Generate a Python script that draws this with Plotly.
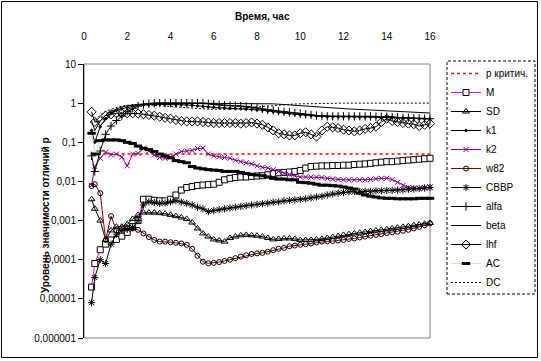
import plotly.graph_objects as go

hours = [0.35] + [round(0.25 * k, 2) for k in range(2, 65)]
p_crit = 0.05

M = [2.0e-5, 8.0e-5, 1.8e-4, 2.5e-4,
     3.2e-4, 3.3e-4, 4.0e-4, 5.0e-4,
     7.0e-4, 1.0e-3, 3.5e-3, 3.5e-3,
     3.3e-3, 3.2e-3, 3.2e-3, 3.5e-3,
     4.5e-3, 6.0e-3, 7.0e-3, 7.4e-3,
     7.9e-3, 8.1e-3, 8.3e-3, 8.5e-3,
     9.5e-3, 0.011, 0.012, 0.0126,
     0.013, 0.013, 0.0135, 0.0138,
     0.014, 0.0148, 0.0158, 0.0166,
     0.017, 0.0174, 0.018, 0.019,
     0.022, 0.024, 0.0245, 0.025,
     0.025, 0.0255, 0.0255, 0.026,
     0.026, 0.027, 0.0275, 0.028,
     0.029, 0.030, 0.031, 0.032,
     0.032, 0.033, 0.034, 0.035,
     0.036, 0.037, 0.038, 0.039]

SD = [3.5e-3, 2.0e-3, 1.0e-3, 3.2e-4,
      5.6e-4, 7.0e-4, 7.0e-4, 8.0e-4,
      1.1e-3, 1.4e-3, 1.6e-3, 1.6e-3,
      1.6e-3, 1.55e-3, 1.5e-3, 1.4e-3,
      1.3e-3, 1.2e-3, 1.1e-3, 8.9e-4,
      6.3e-4, 4.7e-4, 3.9e-4, 3.3e-4,
      3.1e-4, 2.9e-4, 3.6e-4, 3.9e-4,
      4.2e-4, 4.3e-4, 4.2e-4, 4.1e-4,
      3.9e-4, 3.6e-4, 3.3e-4, 3.4e-4,
      3.5e-4, 3.5e-4, 3.4e-4, 3.2e-4,
      3.2e-4, 3.2e-4, 3.3e-4, 3.4e-4,
      3.6e-4, 3.8e-4, 4.0e-4, 4.3e-4,
      4.5e-4, 4.7e-4, 4.9e-4, 5.1e-4,
      5.4e-4, 5.6e-4, 5.8e-4, 6.0e-4,
      6.3e-4, 6.6e-4, 6.9e-4, 7.2e-4,
      7.6e-4, 7.9e-4, 8.3e-4, 8.7e-4]

k1 = [0.20, 0.10, 0.25, 0.40,
      0.55, 0.65, 0.72, 0.78,
      0.83, 0.87, 0.90, 0.92,
      0.93, 0.93, 0.93, 0.93,
      0.93, 0.92, 0.90, 0.88,
      0.85, 0.82, 0.80, 0.78,
      0.76, 0.75, 0.74, 0.73,
      0.72, 0.71, 0.70, 0.68,
      0.66, 0.63, 0.60, 0.58,
      0.56, 0.54, 0.52, 0.50,
      0.49, 0.48, 0.47, 0.46,
      0.45, 0.45, 0.45, 0.45,
      0.45, 0.45, 0.44, 0.44,
      0.44, 0.44, 0.43, 0.43,
      0.43, 0.42, 0.42, 0.41,
      0.41, 0.40, 0.40, 0.40]

k2 = [7.9e-3, 0.024, 0.039, 0.056,
      0.048, 0.050, 0.042, 0.025,
      0.050, 0.052, 0.071, 0.060,
      0.047, 0.041, 0.039, 0.042,
      0.050, 0.058, 0.060, 0.062,
      0.069, 0.071, 0.050, 0.045,
      0.043, 0.041, 0.039, 0.035,
      0.032, 0.030, 0.028, 0.025,
      0.023, 0.022, 0.020, 0.018,
      0.016, 0.015, 0.014, 0.013,
      0.013, 0.0129, 0.0129, 0.0126,
      0.012, 0.0115, 0.0112, 0.011,
      0.011, 0.011, 0.011, 0.011,
      0.0112, 0.0117, 0.012, 0.012,
      0.0112, 0.0095, 0.0079, 0.0070,
      0.0068, 0.0066, 0.0069, 0.0072]

w82 = [7.6e-3, 8.5e-3, 5.0e-3, 3.2e-4,
       1.3e-3, 5.6e-4, 6.3e-4, 6.3e-4,
       6.3e-4, 5.8e-4, 4.7e-4, 3.8e-4,
       3.2e-4, 2.9e-4, 2.9e-4, 2.8e-4,
       2.7e-4, 2.6e-4, 2.4e-4, 1.9e-4,
       1.26e-4, 8.9e-5, 8.1e-5, 8.3e-5,
       8.7e-5, 9.3e-5, 1.0e-4, 1.1e-4,
       1.2e-4, 1.3e-4, 1.4e-4, 1.45e-4,
       1.5e-4, 1.6e-4, 1.75e-4, 1.9e-4,
       2.0e-4, 2.2e-4, 2.3e-4, 2.4e-4,
       2.5e-4, 2.6e-4, 2.75e-4, 2.9e-4,
       2.95e-4, 3.0e-4, 3.1e-4, 3.2e-4,
       3.4e-4, 3.5e-4, 3.7e-4, 3.9e-4,
       4.1e-4, 4.3e-4, 4.5e-4, 4.8e-4,
       5.0e-4, 5.2e-4, 5.5e-4, 5.8e-4,
       6.3e-4, 6.9e-4, 7.6e-4, 8.5e-4]

CBBP = [8.0e-6, 3.5e-5, 1.0e-4, 8.0e-5,
        2.5e-4, 4.5e-4, 5.6e-4, 6.0e-4,
        6.6e-4, 1.0e-3, 2.5e-3, 3.0e-3,
        2.9e-3, 2.75e-3, 2.8e-3, 3.0e-3,
        3.2e-3, 3.0e-3, 2.75e-3, 2.5e-3,
        2.2e-3, 2.0e-3, 1.7e-3, 1.8e-3,
        1.9e-3, 2.0e-3, 2.1e-3, 2.2e-3,
        2.3e-3, 2.4e-3, 2.5e-3, 2.6e-3,
        2.7e-3, 2.8e-3, 2.95e-3, 3.0e-3,
        3.2e-3, 3.3e-3, 3.4e-3, 3.5e-3,
        3.6e-3, 3.8e-3, 4.0e-3, 4.2e-3,
        4.5e-3, 4.8e-3, 5.0e-3, 5.2e-3,
        5.4e-3, 5.5e-3, 5.5e-3, 5.6e-3,
        5.6e-3, 5.75e-3, 5.8e-3, 5.9e-3,
        5.9e-3, 6.0e-3, 6.1e-3, 6.3e-3,
        6.4e-3, 6.6e-3, 6.8e-3, 7.0e-3]

alfa = [0.045, 0.018, 0.060, 0.16,
        0.26, 0.36, 0.47, 0.62,
        0.74, 0.84, 0.92, 0.97,
        1.0, 1.0, 1.0, 1.0,
        1.0, 1.0, 1.0, 1.0,
        1.0, 1.0, 0.97, 0.93,
        0.90, 0.88, 0.86, 0.85,
        0.84, 0.82, 0.79, 0.75,
        0.71, 0.68, 0.65, 0.62,
        0.60, 0.58, 0.56, 0.54,
        0.52, 0.50, 0.48, 0.47,
        0.46, 0.46, 0.46, 0.46,
        0.46, 0.46, 0.46, 0.46,
        0.46, 0.45, 0.45, 0.45,
        0.44, 0.43, 0.42, 0.42,
        0.41, 0.41, 0.40, 0.40]

beta = [0.35, 0.20, 0.35, 0.50,
        0.62, 0.72, 0.80, 0.86,
        0.90, 0.93, 0.96, 0.98,
        1.0, 1.0, 1.0, 1.0,
        1.0, 1.0, 1.0, 1.0,
        1.0, 1.0, 1.0, 1.0,
        1.0, 1.0, 1.0, 1.0,
        1.0, 1.0, 1.0, 1.0,
        1.0, 0.98, 0.96, 0.94,
        0.92, 0.90, 0.88, 0.85,
        0.82, 0.80, 0.78, 0.76,
        0.75, 0.74, 0.73, 0.72,
        0.71, 0.70, 0.69, 0.68,
        0.67, 0.66, 0.65, 0.64,
        0.63, 0.62, 0.61, 0.60,
        0.59, 0.58, 0.57, 0.56]

lhf = [0.60, 0.33, 0.35, 0.48,
       0.52, 0.55, 0.55, 0.55,
       0.55, 0.54, 0.52, 0.50,
       0.48, 0.45, 0.42, 0.40,
       0.37, 0.35, 0.34, 0.34,
       0.34, 0.33, 0.32, 0.31,
       0.31, 0.31, 0.31, 0.31,
       0.30, 0.31, 0.32, 0.30,
       0.28, 0.24, 0.20, 0.17,
       0.16, 0.15, 0.15, 0.17,
       0.18, 0.16, 0.14, 0.20,
       0.25, 0.24, 0.23, 0.21,
       0.20, 0.19, 0.20, 0.22,
       0.23, 0.25, 0.33, 0.40,
       0.35, 0.33, 0.31, 0.30,
       0.29, 0.26, 0.28, 0.30]

AC = [0.17, 0.05, 0.11, 0.115,
      0.115, 0.115, 0.11, 0.10,
      0.093, 0.080, 0.070, 0.065,
      0.058, 0.050, 0.045, 0.040,
      0.034, 0.032, 0.030, 0.024,
      0.022, 0.021, 0.020, 0.0195,
      0.019, 0.018, 0.018, 0.018,
      0.017, 0.016, 0.015, 0.0145,
      0.014, 0.013, 0.012, 0.0115,
      0.0115, 0.011, 0.011, 0.0095,
      0.0093, 0.009, 0.0085, 0.008,
      0.008, 0.0078, 0.0076, 0.0072,
      0.0068, 0.0064, 0.005, 0.0045,
      0.0042, 0.004, 0.0038, 0.0037,
      0.0037, 0.0036, 0.0036, 0.0036,
      0.0036, 0.0037, 0.0037, 0.0037]

DC = [0.50, 0.35, 0.50, 0.62,
      0.70, 0.78, 0.84, 0.88,
      0.90, 0.92, 0.92, 0.90,
      0.88, 0.85, 0.82, 0.80,
      0.78, 0.76, 0.74, 0.72,
      0.71, 0.70, 0.70, 0.70,
      0.70, 0.70, 0.71, 0.72,
      0.74, 0.76, 0.78, 0.80,
      0.83, 0.86, 0.88, 0.90,
      0.92, 0.94, 0.95, 0.96,
      0.97, 0.98, 0.99, 1.0,
      1.0, 1.0, 1.0, 1.0,
      1.0, 1.0, 1.0, 1.0,
      1.0, 1.0, 1.0, 1.0,
      1.0, 1.0, 1.0, 1.0,
      1.0, 1.0, 1.0, 1.0]

y_ticks = [1e-6, 1e-5, 1e-4, 1e-3, 1e-2, 1e-1, 1, 10]
y_labels = ["0,000001", "0,00001", "0,0001", "0,001", "0,01", "0,1", "1", "10"]
x_ticks = [0, 2, 4, 6, 8, 10, 12, 14, 16]

FONT = "Liberation Sans, Arial, sans-serif"

fig = go.Figure()


def add(name, y, line, marker=None):
    fig.add_trace(go.Scatter(x=hours, y=y, name=name,
                             mode="lines+markers" if marker else "lines",
                             line=line, marker=marker, cliponaxis=False))


fig.add_trace(go.Scatter(x=[hours[0], hours[-1]], y=[p_crit, p_crit], name="р критич.",
                         mode="lines", line=dict(color="#FF0000", width=1.5, dash="3px,3px"),
                         cliponaxis=False))
add("M", M, dict(color="#FF00FF", width=1),
    dict(symbol="square", size=6, color="white", line=dict(color="black", width=1)))
add("SD", SD, dict(color="black", width=1),
    dict(symbol="triangle-up-open", size=6, color="black", line=dict(color="black", width=1)))
add("k1", k1, dict(color="black", width=1),
    dict(symbol="diamond", size=3, color="black"))
add("k2", k2, dict(color="#800080", width=1),
    dict(symbol="x-thin-open", size=5, color="#800080", line=dict(color="#800080", width=1)))
add("w82", w82, dict(color="#800000", width=1),
    dict(symbol="circle-open", size=5, color="black", line=dict(color="black", width=1)))
add("CBBP", CBBP, dict(color="black", width=1),
    dict(symbol="asterisk-open", size=6, color="black", line=dict(color="black", width=1)))
add("alfa", alfa, dict(color="black", width=1),
    dict(symbol="cross-thin-open", size=6, color="black", line=dict(color="black", width=1)))
add("beta", beta, dict(color="black", width=1))
add("lhf", lhf, dict(color="black", width=1),
    dict(symbol="diamond-open", size=7, color="black", line=dict(color="black", width=1)))
add("AC", AC, dict(color="#B8F0B8", width=1),
    dict(symbol="line-ew-open", size=6, color="black", line=dict(color="black", width=3)))
add("DC", DC, dict(color="black", width=1, dash="2px,2px"))

px_l, px_r, px_t, px_b = 84, 430, 64, 338
W, H = 541, 361


def pxx(x):
    return (x - px_l) / (px_r - px_l)


def pxy(y):
    return (px_b - y) / (px_b - px_t)


fig.update_layout(
    width=W, height=H,
    margin=dict(l=px_l, r=W - px_r, t=px_t, b=H - px_b, autoexpand=False),
    paper_bgcolor="white", plot_bgcolor="white",
    font=dict(family=FONT, size=10, color="black"),
    xaxis=dict(side="top", range=[0, 16], tickvals=x_ticks, ticks="", showgrid=False,
               zeroline=False, showline=False, ticklabelstandoff=21,
               tickfont=dict(size=10)),
    yaxis=dict(type="log", range=[-6, 1], tickvals=y_ticks, ticktext=y_labels,
               ticks="outside", ticklen=5, tickcolor="black", tickwidth=1,
               showline=True, linecolor="black", linewidth=1, showgrid=False,
               zeroline=False, tickfont=dict(size=10)),
    legend=dict(x=pxx(446), y=pxy(59), xanchor="left", yanchor="top",
                bgcolor="rgba(0,0,0,0)", borderwidth=0, font=dict(size=10),
                itemwidth=30, tracegroupgap=0, maxheight=300),
    showlegend=True,
    shapes=[
        dict(type="rect", xref="paper", yref="paper", x0=0, x1=1, y0=0, y1=1,
             line=dict(color="#808080", width=1), layer="below"),
        dict(type="rect", xref="paper", yref="paper", x0=pxx(447), x1=pxx(535),
             y0=pxy(294), y1=pxy(61), line=dict(color="black", width=1, dash="3px,2px")),
        dict(type="rect", xref="paper", yref="paper", x0=pxx(1.5), x1=pxx(537.5),
             y0=pxy(357.5), y1=pxy(1.5), line=dict(color="black", width=1)),
    ],
    annotations=[
        dict(text="<b>Время, час</b>", xref="paper", yref="paper", x=pxx(262), y=pxy(17),
             showarrow=False, xanchor="center", yanchor="middle", font=dict(size=10)),
        dict(text="<b>Уровень значимости отличий р</b>", xref="paper", yref="paper",
             x=pxx(45), y=pxy(215), showarrow=False, textangle=-90,
             xanchor="center", yanchor="middle", font=dict(size=10)),
    ],
)

fig.write_html("out.html", config={"displayModeBar": False},
               post_script="document.body.style.margin='0';")
